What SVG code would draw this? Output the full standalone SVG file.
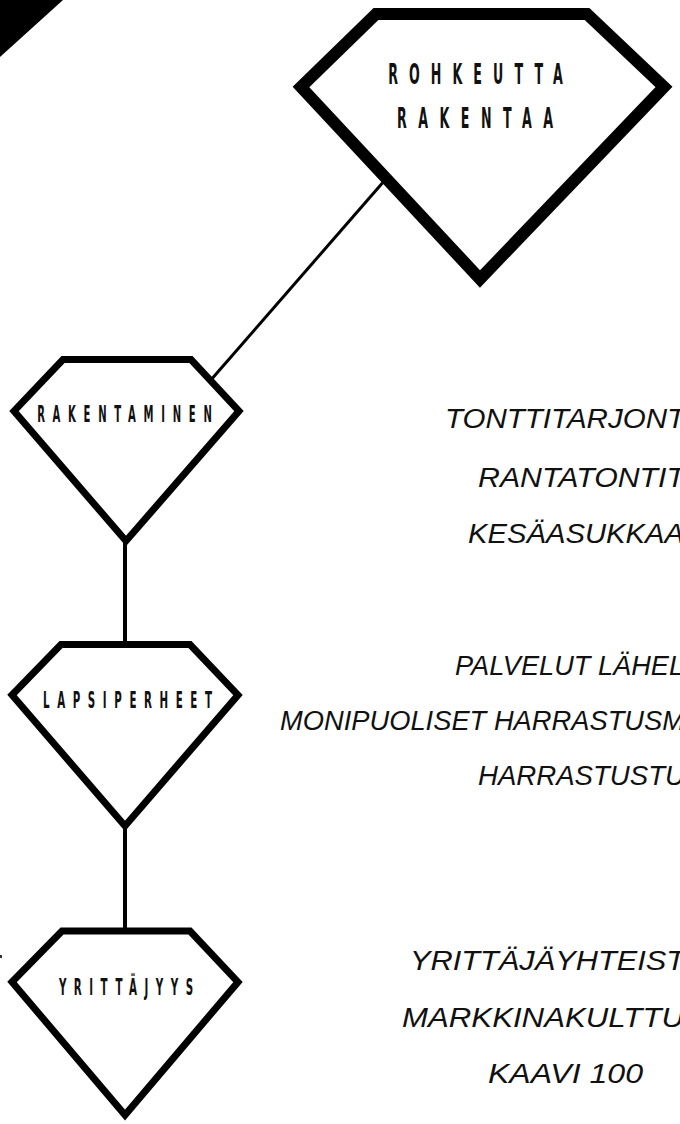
<svg xmlns="http://www.w3.org/2000/svg" width="680" height="1124" viewBox="0 0 680 1124">
<style>
.gem{fill:#fff;stroke:#000;stroke-linejoin:miter;stroke-miterlimit:10}
.big{stroke-width:12}
.small{stroke-width:7}
.lbl{font-family:"DejaVu Sans Condensed","DejaVu Sans","Liberation Sans",sans-serif;font-weight:bold;fill:#111;text-anchor:middle}
.hand{font-family:"Liberation Sans","DejaVu Sans",sans-serif;font-style:italic;font-size:27px;fill:#111}
.con{stroke:#000;fill:none}
</style>
<rect width="680" height="1124" fill="#fff"/>
<polygon points="0,0 63,0 0,57" fill="#000"/>
<rect x="0" y="955" width="2" height="3" fill="#333"/>
<g id="connectors">
<line class="con" x1="385" y1="180" x2="210" y2="381" stroke-width="3"/>
<line class="con" x1="125" y1="540" x2="125" y2="645" stroke-width="4"/>
<line class="con" x1="125" y1="825" x2="125" y2="932" stroke-width="4"/>
</g>
<g id="rohkeutta">
<polygon class="gem big" points="376,14 587,14 664,87 480,279 301,87"/>
<text class="lbl" font-size="27" transform="translate(475.5,84) scale(0.52,1.08)" textLength="336" lengthAdjust="spacing">ROHKEUTTA</text>
<text class="lbl" font-size="27" transform="translate(475,128) scale(0.52,1.08)" textLength="300" lengthAdjust="spacing">RAKENTAA</text>
</g>
<g id="rakentaminen">
<polygon class="gem small" points="63,359.5 191,359.5 239,411 126,541 14,411"/>
<text class="lbl" font-size="21.5" transform="translate(124.5,422) scale(0.52,1.08)" textLength="336" lengthAdjust="spacing">RAKENTAMINEN</text>
</g>
<g id="lapsiperheet">
<polygon class="gem small" points="61,644.5 190,644.5 238,695 125,826 12,695"/>
<text class="lbl" font-size="22" transform="translate(127.5,708) scale(0.52,1.08)" textLength="325" lengthAdjust="spacing">LAPSIPERHEET</text>
</g>
<g id="yrittajyys">
<polygon class="gem small" points="62,931 190,931 238,982 125,1115 12,982"/>
<text class="lbl" font-size="22" transform="translate(126,995) scale(0.52,1.08)" textLength="258" lengthAdjust="spacing">YRITTÄJYYS</text>
</g>
<g id="notes">
<text class="hand" x="445" y="428" textLength="240" lengthAdjust="spacingAndGlyphs">TONTTITARJONT</text>
<text class="hand" x="478" y="487" textLength="207" lengthAdjust="spacingAndGlyphs">RANTATONTIT</text>
<text class="hand" x="468" y="543" textLength="216" lengthAdjust="spacingAndGlyphs">KESÄASUKKAA</text>
<text class="hand" x="455" y="675" textLength="229" lengthAdjust="spacingAndGlyphs">PALVELUT LÄHEL</text>
<text class="hand" x="280" y="730" textLength="405" lengthAdjust="spacingAndGlyphs">MONIPUOLISET HARRASTUSM</text>
<text class="hand" x="478" y="785" textLength="207" lengthAdjust="spacingAndGlyphs">HARRASTUSTU</text>
<text class="hand" x="410" y="970" textLength="275" lengthAdjust="spacingAndGlyphs">YRITTÄJÄYHTEIST</text>
<text class="hand" x="402" y="1027" textLength="282" lengthAdjust="spacingAndGlyphs">MARKKINAKULTTU</text>
<text class="hand" x="488" y="1083" textLength="155" lengthAdjust="spacingAndGlyphs">KAAVI 100</text>
</g>
</svg>
